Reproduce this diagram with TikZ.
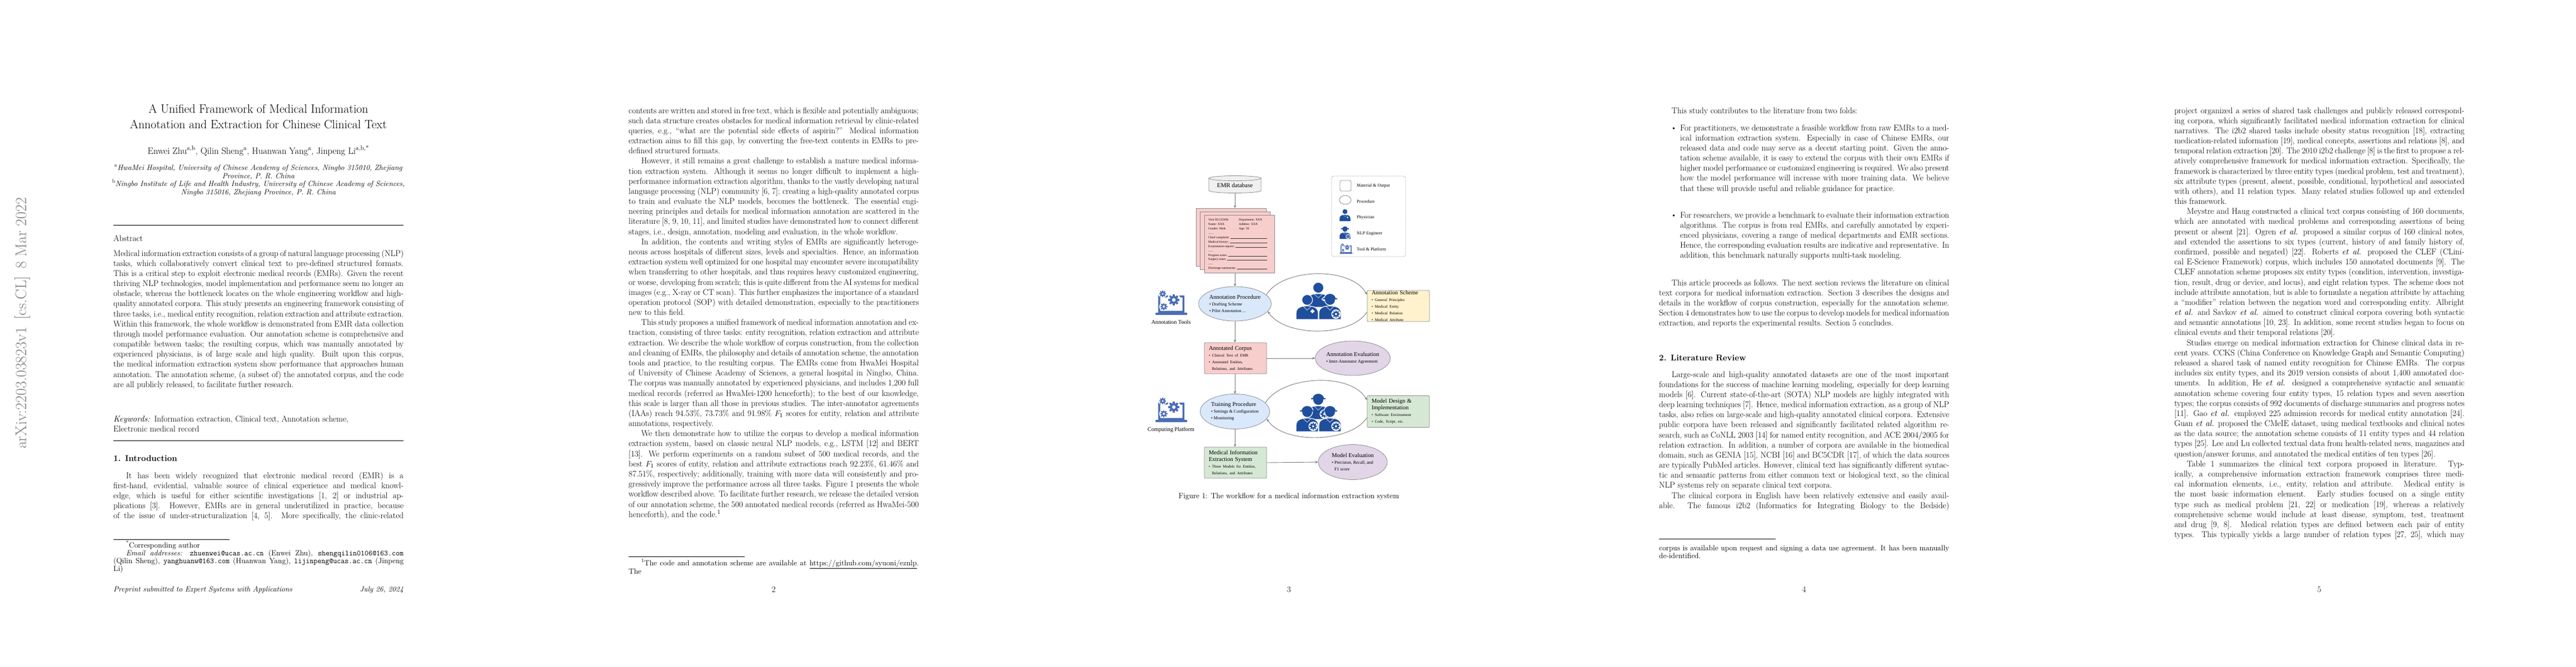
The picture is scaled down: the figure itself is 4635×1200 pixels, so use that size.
\documentclass[tikz,border=0pt]{standalone}
\usepackage{fontspec}
\newfontfamily\figfont{Liberation Serif}
\usetikzlibrary{shapes.geometric,arrows.meta}
\definecolor{bord}{HTML}{8C8C8C}
\definecolor{arrc}{HTML}{7A7A7A}
\definecolor{pinkF}{HTML}{F8CECC}
\definecolor{blueF}{HTML}{DAE8FC}
\definecolor{yelF}{HTML}{FFF2CC}
\definecolor{greenF}{HTML}{D5E8D4}
\definecolor{purpF}{HTML}{E1D5E7}
\definecolor{cylF}{HTML}{F0F0F0}
\definecolor{navy}{HTML}{1F4E9C}
\definecolor{toolc}{HTML}{4A6DB5}
\newcommand\fsz[2]{\fontsize{#1}{#2}\selectfont}
\newcommand\bodyf{\fsz{15.15}{18.18}}
\newcommand\smallf{\fsz{13.6}{14.2}}
\newcommand\colbox[2]{\parbox[t]{#1pt}{\bodyf\setlength\parindent{22.7pt}\setlength\parskip{0pt}#2}}
\newcommand\gearx[2]{\begin{scope}[shift={#1},scale=#2]
 \fill[white] (0,0) circle (1.25);
 \fill[toolc,even odd rule] (0,0) circle (0.72) (0,0) circle (0.33);
 \foreach \a in {0,45,...,315}{\fill[toolc,rotate=\a] (-0.19,0.6) rectangle (0.19,1);}
\end{scope}}
\newcommand\toolicon[2]{\begin{scope}[shift={#1},scale=#2]
 \fill[toolc,even odd rule] (5,-10) rectangle (52,-41) (8.5,-13.5) rectangle (48.5,-37.5);
 \fill[toolc,rounded corners=1pt] (0,-41) rectangle (57,-45);
 \gearx{(13,-7)}{6}
 \gearx{(33,-18)}{10}
 \gearx{(15,-30)}{6.5}
\end{scope}}
\newcommand\personicon[4]{\begin{scope}[shift={#1},scale=#2]
 \fill[navy,draw=white,line width=#4] (-2.5,-4.4) -- (-2.5,-3.0) .. controls (-2.5,-1.8) and (-1.5,-1.35) .. (0,-1.35) .. controls (1.5,-1.35) and (2.5,-1.8) .. (2.5,-3.0) -- (2.5,-4.4) -- cycle;
 \draw[white,line width=0.5*#4] (-0.9,-1.45) -- (0,-2.3) -- (0.9,-1.45);
 \fill[navy,draw=white,line width=#4] (0,0) circle (1.2);
 \ifx p#3
  \fill[white] (0.95,-3.05) rectangle (1.35,-2.15);
  \fill[white] (0.7,-2.8) rectangle (1.6,-2.4);
 \else
  \fill[navy,draw=white,line width=#4] (-1.35,0.25) arc (180:0:1.35 and 1.2) -- cycle;
  \fill[navy] (-1.65,0.1) rectangle (1.65,0.4);
  \fill[white] (1.35,-3.2) circle (1.05);
  \begin{scope}[shift={(1.35,-3.2)},scale=0.8]
   \fill[navy,even odd rule] (0,0) circle (0.72) (0,0) circle (0.33);
   \foreach \a in {0,45,...,315}{\fill[navy,rotate=\a] (-0.19,0.6) rectangle (0.19,1);}
  \end{scope}
 \fi
\end{scope}}
\tikzset{
 txt/.style={inner sep=0pt,anchor=base west},
 ctr/.style={inner sep=0pt,anchor=base},
 boxn/.style={draw=bord,rounded corners=2pt,line width=0.8pt,minimum width=112pt,minimum height=56pt,inner sep=0pt,text width=96pt,align=left,font=\figfont},
 elln/.style={ellipse,draw=bord,line width=0.8pt,minimum width=125pt,minimum height=62pt,inner sep=0pt,align=left,font=\figfont},
 arr/.style={draw=arrc,line width=0.9pt,-{Stealth[length=5pt,width=4.5pt]}},
 doct/.style={inner sep=0pt,anchor=base west,font=\figfont\fsz{5.6}{6}},
 legt/.style={inner sep=0pt,anchor=west,font=\figfont\fsz{8}{9}},
 pg/.style={inner sep=0pt,anchor=base,font=\bodyf},
 doc/.style={draw=bord,fill=pinkF,line width=0.8pt,minimum width=126pt,minimum height=104pt,inner sep=0pt}
}
\newcommand\bt[1]{{\fsz{8}{10.5}\textbullet\ #1}}
\newcommand\bs[1]{{\fsz{7}{9.3}\textbullet\ #1}}
\newcommand\ttl[1]{{\fsz{10.5}{12.5}#1}}
\begin{document}
\begin{tikzpicture}[x=1pt,y=1pt]
\useasboundingbox (0,0) rectangle (4635,-1200);
\fill[white] (0,0) rectangle (4635,-1200);

%================ PAGE 1 =================
\node[rotate=90,inner sep=0pt,text=black!50,font=\fsz{28}{28}] (stamp) at (40,-582) {arXiv:2203.03823v1\enspace [cs.CL]\enspace 8 Mar 2022};
\node[ctr,font=\fsz{21.8}{28}] (t1) at (465,-203) {A Unified Framework of Medical Information};
\node[ctr,font=\fsz{21.8}{28}] (t2) at (465,-231) {Annotation and Extraction for Chinese Clinical Text};
\node[ctr,font=\fsz{16.5}{20}] (au) at (465,-277) {Enwei Zhu\textsuperscript{a,b}, Qilin Sheng\textsuperscript{a}, Huanwan Yang\textsuperscript{a}, Jinpeng Li\textsuperscript{a,b,*}};
\node[ctr,font=\smallf] (af1) at (465,-306) {\textsuperscript{a}\textit{HwaMei Hospital, University of Chinese Academy of Sciences, Ningbo 315010, Zhejiang}};
\node[ctr,font=\smallf] (af2) at (465,-321) {\textit{Province, P. R. China}};
\node[ctr,font=\smallf] (af3) at (465,-335) {\textsuperscript{b}\textit{Ningbo Institute of Life and Health Industry, University of Chinese Academy of Sciences,}};
\node[ctr,font=\smallf] (af4) at (465,-350) {\textit{Ningbo 315016, Zhejiang Province, P. R. China}};
\draw[line width=0.8pt] (204,-405) -- (726,-405);
\node[txt,font=\bodyf] (abs) at (204,-434) {Abstract};
\node[txt] (absp) at (204,-461) {\colbox{522}{\noindent Medical information extraction consists of a group of natural language processing (NLP) tasks, which collaboratively convert clinical text to pre-defined structured formats. This is a critical step to exploit electronic medical records (EMRs). Given the recent thriving NLP technologies, model implementation and performance seem no longer an obstacle, whereas the bottleneck locates on the whole engineering workflow and high-quality annotated corpora. This study presents an engineering framework consisting of three tasks, i.e., medical entity recognition, relation extraction and attribute extraction. Within this framework, the whole workflow is demonstrated from EMR data collection through model performance evaluation. Our annotation scheme is comprehensive and compatible between tasks; the resulting corpus, which was manually annotated by experienced physicians, is of large scale and high quality. Built upon this corpus, the medical information extraction system show performance that approaches human annotation. The annotation scheme, (a subset of) the annotated corpus, and the code are all publicly released, to facilitate further research.}};
\node[txt] (kw) at (204,-759) {\colbox{522}{\noindent\textit{Keywords:}\enspace Information extraction, Clinical text, Annotation scheme,\newline Electronic medical record}};
\draw[line width=0.8pt] (204,-793) -- (726,-793);
\node[txt,font=\bodyf\bfseries] (s1) at (204,-830) {1.\enspace Introduction};
\node[txt] (intro) at (204,-861) {\colbox{522}{It has been widely recognized that electronic medical record (EMR) is a first-hand, evidential, valuable source of clinical experience and medical knowledge, which is useful for either scientific investigations [1, 2] or industrial applications [3]. However, EMRs are in general underutilized in practice, because of the issue of under-structuralization [4, 5]. More specifically, the clinic-related\parfillskip=0pt\par}};
\draw[line width=0.6pt] (204,-971) -- (413,-971);
\node[txt] (fn1) at (204,-986) {\parbox[t]{522pt}{\smallf\setlength\parindent{22.7pt}\textsuperscript{*}Corresponding author\par
\textit{Email addresses:} \texttt{zhuenwei@ucas.ac.cn} (Enwei Zhu), \texttt{shengqilin0106@163.com} (Qilin Sheng), \texttt{yanghuanw@163.com} (Huanwan Yang), \texttt{lijinpeng@ucas.ac.cn} (Jinpeng Li)}};
\node[txt,font=\smallf\itshape] (foot) at (204,-1065) {Preprint submitted to Expert Systems with Applications};
\node[inner sep=0pt,anchor=base east,font=\smallf\itshape] (date) at (726,-1065) {July 26, 2024};

%================ PAGE 2 =================
\node[txt] (p2) at (1131,-204) {\colbox{522}{\noindent contents are written and stored in free text, which is flexible and potentially ambiguous; such data structure creates obstacles for medical information retrieval by clinic-related queries, e.g., ``what are the potential side effects of aspirin?'' Medical information extraction aims to fill this gap, by converting the free-text contents in EMRs to pre-defined structured formats.\par
However, it still remains a great challenge to establish a mature medical information extraction system. Although it seems no longer difficult to implement a high-performance information extraction algorithm, thanks to the vastly developing natural language processing (NLP) community [6, 7]; creating a high-quality annotated corpus to train and evaluate the NLP models, becomes the bottleneck. The essential engineering principles and details for medical information annotation are scattered in the literature [8, 9, 10, 11], and limited studies have demonstrated how to connect different stages, i.e., design, annotation, modeling and evaluation, in the whole workflow.\par
In addition, the contents and writing styles of EMRs are significantly heterogeneous across hospitals of different sizes, levels and specialties. Hence, an information extraction system well optimized for one hospital may encounter severe incompatibility when transferring to other hospitals, and thus requires heavy customized engineering, or worse, developing from scratch; this is quite different from the AI systems for medical images (e.g., X-ray or CT scan). This further emphasizes the importance of a standard operation protocol (SOP) with detailed demonstration, especially to the practitioners new to this field.\par
This study proposes a unified framework of medical information annotation and extraction, consisting of three tasks: entity recognition, relation extraction and attribute extraction. We describe the whole workflow of corpus construction, from the collection and cleaning of EMRs, the philosophy and details of annotation scheme, the annotation tools and practice, to the resulting corpus. The EMRs come from HwaMei Hospital of University of Chinese Academy of Sciences, a general hospital in Ningbo, China. The corpus was manually annotated by experienced physicians, and includes 1,200 full medical records (referred as HwaMei-1200 henceforth); to the best of our knowledge, this scale is larger than all those in previous studies. The inter-annotator agreements (IAAs) reach 94.53\%, 73.73\% and 91.98\% $F_1$ scores for entity, relation and attribute annotations, respectively.\par
We then demonstrate how to utilize the corpus to develop a medical information extraction system, based on classic neural NLP models, e.g., LSTM [12] and BERT [13]. We perform experiments on a random subset of 500 medical records, and the best $F_1$ scores of entity, relation and attribute extractions reach 92.23\%, 61.46\% and 87.51\%, respectively; additionally, training with more data will consistently and progressively improve the performance across all three tasks. Figure 1 presents the whole workflow described above. To facilitate further research, we release the detailed version of our annotation scheme, the 500 annotated medical records (referred as HwaMei-500 henceforth), and the code.\textsuperscript{1}}};
\draw[line width=0.6pt] (1131,-1002) -- (1340,-1002);
\node[txt] (fn2) at (1131,-1018) {\parbox[t]{522pt}{\smallf\setlength\parindent{22.7pt}\textsuperscript{1}The code and annotation scheme are available at \underline{https://github.com/syuoni/eznlp}. The\parfillskip=0pt\par}};
\node[pg] (n2) at (1392,-1066) {2};

%================ PAGE 3 : FIGURE =================
\begin{scope}[font=\figfont]
% legend
\draw[bord,densely dotted,line width=0.8pt,rounded corners=4pt] (2396,-317) rectangle (2529,-462);
\draw[bord,line width=0.8pt,rounded corners=3pt] (2411,-325) rectangle (2431,-344);
\node[legt] (l1) at (2441,-335) {Material \& Output};
\draw[bord,line width=0.8pt] (2420.5,-360) ellipse (10.5 and 8);
\node[legt] (l2) at (2441,-363) {Procedure};
\personicon{(2420,-381)}{4}{p}{0.5pt}
\node[legt] (l3) at (2441,-392) {Physician};
\personicon{(2420,-413)}{4}{e}{0.5pt}
\node[legt] (l4) at (2441,-421) {NLP Engineer};
\toolicon{(2410,-438)}{0.42}
\node[legt] (l5) at (2441,-449) {Tool \& Platform};

% EMR database cylinder
\fill[cylF,draw=bord,line width=0.8pt] (2175,-321) -- (2175,-343) arc (180:360:47 and 4.5) -- (2269,-321);
\draw[bord,fill=cylF,line width=0.8pt] (2222,-321) ellipse (47 and 4.5);
\node[inner sep=0pt,minimum width=94pt,minimum height=28pt,font=\figfont\fsz{11}{13}] (emr) at (2222,-334) {EMR database};

% documents
\node[doc] (docback) at (2215,-427) {};
\node[doc] (docmid) at (2222.5,-433) {};
\node[doc] (docfront) at (2230,-439) {};
\node[doct] (d1) at (2174,-397) {Visit ID:123456};
\node[doct] (d2) at (2229,-397) {Department: XXX};
\node[doct] (d3) at (2174,-405) {Name: XXX};
\node[doct] (d4) at (2229,-405) {Address: XXX};
\node[doct] (d5) at (2174,-413) {Gender: Male};
\node[doct] (d6) at (2229,-413) {Age: 30};
\node[doct] (d7) at (2174,-421) {.......};
\foreach \yy/\tt [count=\i] in {429/Chief complaint:,437/Medical history:,445/Examination reports:,461/Progress notes:,468/Surgery notes:,484/Discharge summaries:}{
 \node[doct] (fld\i) at (2174,-\yy) {\tt};
 \draw[black!80,line width=0.3pt] ([xshift=1.5pt]fld\i.base east) -- (2280,-\yy);
}
\node[doct] (d8) at (2174,-453) {......};
\node[doct] (d9) at (2174,-476) {......};

% main nodes
\node[elln,fill=blueF] (ap) at (2222,-547) {\ttl{Annotation Procedure}\\ \bt{Drafting Scheme}\\ \bt{Pilot Annotation ...}};
\node[boxn,fill=yelF] (as) at (2516,-551) {\ttl{Annotation Scheme}\\ \bs{General Principles}\\ \bs{Medical Entity}\\ \bs{Medical Relation}\\ \bs{Medical Attribute}};
\node[boxn,fill=pinkF] (ac) at (2223,-645) {\ttl{Annotated Corpus}\\ \bs{Clinical Text of EMR}\\ \bs{Annotated Entities,}\\ {\fsz{7}{9.3}\phantom{\textbullet\ }Relations, and Attributes}};
\node[elln,fill=purpF,minimum width=124pt] (ae) at (2434,-645) {\ttl{Annotation Evaluation}\\ \bt{Inter-Annotator Agreement}};
\node[elln,fill=blueF,minimum height=63pt] (tp) at (2222,-741) {\ttl{Training Procedure}\\ \bt{Settings \& Configuration}\\ \bt{Monitoring}};
\node[boxn,fill=greenF,minimum height=57pt] (md) at (2516,-741) {\ttl{Model Design \&}\\ \ttl{Implementation}\\ \bs{Software Environment}\\ \bs{Code, Script, etc.}};
\node[boxn,fill=greenF] (mies) at (2223,-833) {\ttl{Medical Information}\\ \ttl{Extraction System}\\ \bs{Three Models for Entities,}\\ {\fsz{7}{9.3}\phantom{\textbullet\ }Relations, and Attributes}};
\node[elln,fill=purpF,minimum width=124pt,minimum height=63pt] (me) at (2434,-832) {\ttl{Model Evaluation}\\ \bt{Precision, Recall, and}\\ {\fsz{8}{10.5}\phantom{\textbullet\ }F1 score}};

% connectors
\draw[arr] (emr.south) -- (emr.south |- docback.north);
\draw[arr] (ap.north |- docfront.south) -- (ap.north);
\draw[arr] (ap.south) -- (ap.south |- ac.north);
\draw[arr] (ac.east) -- (ae.west);
\draw[arr] (ac.south -| tp.north) -- (tp.north);
\draw[arr] (tp.south) -- (tp.south |- mies.north);
\draw[arr] (mies.east) -- (me.west);
\draw[arr] (ap.16) .. controls +(30,49) and +(-29,51) .. (as.160);
\draw[arr] (as.191) .. controls +(-30,-46) and +(30,-46) .. (ap.347);
\draw[arr] (tp.16) .. controls +(30,49) and +(-29,51) .. (md.160);
\draw[arr] (md.191) .. controls +(-30,-46) and +(30,-46) .. (tp.347);

% people groups
\personicon{(2372,-518)}{8}{p}{1pt}
\personicon{(2352,-540)}{8}{p}{1.2pt}
\personicon{(2393,-540)}{8}{e}{1.2pt}
\personicon{(2372,-720)}{8}{e}{1pt}
\personicon{(2352,-742)}{8}{e}{1.2pt}
\personicon{(2393,-742)}{8}{e}{1.2pt}

% tools
\toolicon{(2079,-522)}{1}
\node[ctr,font=\figfont\fsz{10.2}{12}] (atl) at (2107,-583) {Annotation Tools};
\toolicon{(2079,-715)}{1}
\node[ctr,font=\figfont\fsz{10.2}{12}] (cpl) at (2107,-776) {Computing Platform};
\end{scope}
\node[ctr,font=\smallf] (cap) at (2319,-897) {Figure 1: The workflow for a medical information extraction system};
\node[pg] (n3) at (2319,-1066) {3};

%================ PAGE 4 =================
\node[txt] (p4a) at (2985,-204) {\colbox{522}{This study contributes to the literature from two folds:}};
\node[txt,font=\bodyf] (b1) at (3006,-235) {\textbullet};
\node[txt] (p4b) at (3023,-235) {\colbox{484}{\noindent For practitioners, we demonstrate a feasible workflow from raw EMRs to a medical information extraction system. Especially in case of Chinese EMRs, our released data and code may serve as a decent starting point. Given the annotation scheme available, it is easy to extend the corpus with their own EMRs if higher model performance or customized engineering is required. We also present how the model performance will increase with more training data. We believe that these will provide useful and reliable guidance for practice.}};
\node[txt,font=\bodyf] (b2) at (3006,-392) {\textbullet};
\node[txt] (p4c) at (3023,-392) {\colbox{484}{\noindent For researchers, we provide a benchmark to evaluate their information extraction algorithms. The corpus is from real EMRs, and carefully annotated by experienced physicians, covering a range of medical departments and EMR sections. Hence, the corresponding evaluation results are indicative and representative. In addition, this benchmark naturally supports multi-task modeling.}};
\node[txt] (p4d) at (2985,-514) {\colbox{522}{This article proceeds as follows. The next section reviews the literature on clinical text corpora for medical information extraction. Section 3 describes the designs and details in the workflow of corpus construction, especially for the annotation scheme. Section 4 demonstrates how to use the corpus to develop models for medical information extraction, and reports the experimental results. Section 5 concludes.}};
\node[txt,font=\bodyf\bfseries] (s2) at (2985,-649) {2.\enspace Literature Review};
\node[txt] (p4e) at (2985,-679) {\colbox{522}{Large-scale and high-quality annotated datasets are one of the most important foundations for the success of machine learning modeling, especially for deep learning models [6]. Current state-of-the-art (SOTA) NLP models are highly integrated with deep learning techniques [7]. Hence, medical information extraction, as a group of NLP tasks, also relies on large-scale and high-quality annotated clinical corpora. Extensive public corpora have been released and significantly facilitated related algorithm research, such as CoNLL 2003 [14] for named entity recognition, and ACE 2004/2005 for relation extraction. In addition, a number of corpora are available in the biomedical domain, such as GENIA [15], NCBI [16] and BC5CDR [17], of which the data sources are typically PubMed articles. However, clinical text has significantly different syntactic and semantic patterns from either common text or biological text, so the clinical NLP systems rely on separate clinical text corpora.\par
The clinical corpora in English have been relatively extensive and easily available. The famous i2b2 (Informatics for Integrating Biology to the Bedside)\parfillskip=0pt\par}};
\draw[line width=0.6pt] (2985,-970) -- (3195,-970);
\node[txt] (fn4) at (2985,-991) {\parbox[t]{522pt}{\smallf\noindent corpus is available upon request and signing a data use agreement. It has been manually de-identified.}};
\node[pg] (n4) at (3246,-1066) {4};

%================ PAGE 5 =================
\node[txt] (p5) at (3912,-204) {\colbox{522}{\noindent project organized a series of shared task challenges and publicly released corresponding corpora, which significantly facilitated medical information extraction for clinical narratives. The i2b2 shared tasks include obesity status recognition [18], extracting medication-related information [19], medical concepts, assertions and relations [8], and temporal relation extraction [20]. The 2010 i2b2 challenge [8] is the first to propose a relatively comprehensive framework for medical information extraction. Specifically, the framework is characterized by three entity types (medical problem, test and treatment), six attribute types (present, absent, possible, conditional, hypothetical and associated with others), and 11 relation types. Many related studies followed up and extended this framework.\par
Meystre and Haug constructed a clinical text corpus consisting of 160 documents, which are annotated with medical problems and corresponding assertions of being present or absent [21]. Ogren \textit{et al.} proposed a similar corpus of 160 clinical notes, and extended the assertions to six types (current, history of and family history of, confirmed, possible and negated) [22]. Roberts \textit{et al.} proposed the CLEF (CLinical E-Science Framework) corpus, which includes 150 annotated documents [9]. The CLEF annotation scheme proposes six entity types (condition, intervention, investigation, result, drug or device, and locus), and eight relation types. The scheme does not include attribute annotation, but is able to formulate a negation attribute by attaching a ``modifier'' relation between the negation word and corresponding entity. Albright \textit{et al.} and Savkov \textit{et al.} aimed to construct clinical corpora covering both syntactic and semantic annotations [10, 23]. In addition, some recent studies began to focus on clinical events and their temporal relations [20].\par
Studies emerge on medical information extraction for Chinese clinical data in recent years. CCKS (China Conference on Knowledge Graph and Semantic Computing) released a shared task of named entity recognition for Chinese EMRs. The corpus includes six entity types, and its 2019 version consists of about 1,400 annotated documents. In addition, He \textit{et al.} designed a comprehensive syntactic and semantic annotation scheme covering four entity types, 15 relation types and seven assertion types; the corpus consists of 992 documents of discharge summaries and progress notes [11]. Gao \textit{et al.} employed 225 admission records for medical entity annotation [24]. Guan \textit{et al.} proposed the CMeIE dataset, using medical textbooks and clinical notes as the data source; the annotation scheme consists of 11 entity types and 44 relation types [25]. Lee and Lu collected textual data from health-related news, magazines and question/answer forums, and annotated the medical entities of ten types [26].\par
Table 1 summarizes the clinical text corpora proposed in literature. Typically, a comprehensive information extraction framework comprises three medical information elements, i.e., entity, relation and attribute. Medical entity is the most basic information element. Early studies focused on a single entity type such as medical problem [21, 22] or medication [19], whereas a relatively comprehensive scheme would include at least disease, symptom, test, treatment and drug [9, 8]. Medical relation types are defined between each pair of entity types. This typically yields a large number of relation types [27, 25], which may\parfillskip=0pt\par}};
\node[pg] (n5) at (4173,-1066) {5};
\end{tikzpicture}
\end{document}
